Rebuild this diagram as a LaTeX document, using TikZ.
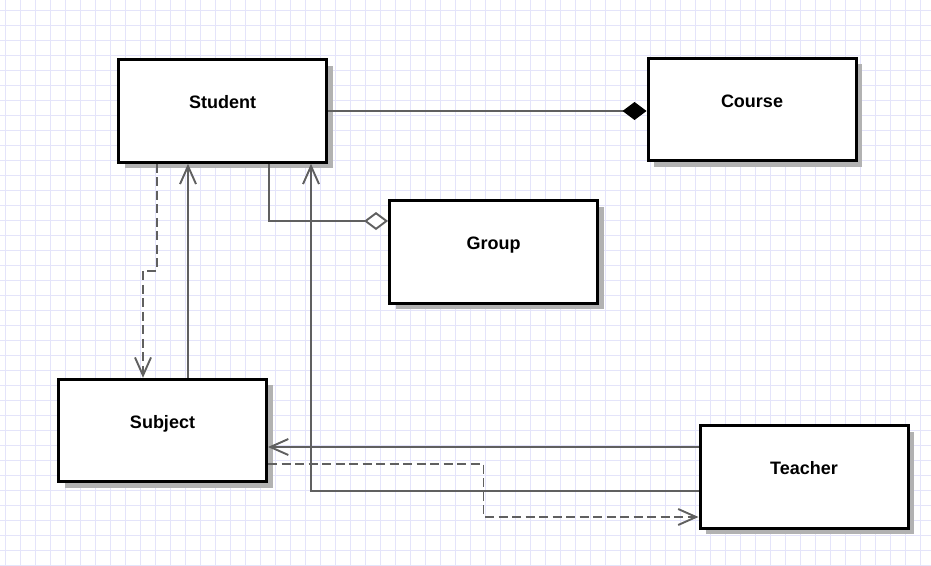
\documentclass[tikz,border=0pt]{standalone}
\usepackage{fontspec}
\setmainfont{Liberation Sans}
\usepackage{xcolor}
\usepackage{tikz}
\usetikzlibrary{arrows.meta,shadows}
\tikzset{every picture/.style={line width=0.75pt}}
\definecolor{gridblue}{RGB}{228,228,250}
\definecolor{linegray}{RGB}{96,96,96}
\definecolor{shadowgray}{RGB}{178,178,178}
\tikzset{
  classbox/.style={draw=black, line width=3pt, fill=white,
    minimum width=208pt, minimum height=102.5pt, inner sep=0pt,
    font=\fontsize{18pt}{20pt}\selectfont\bfseries,
    text height=13pt, text depth=18pt,
    drop shadow={shadow xshift=6pt, shadow yshift=-6pt, fill=shadowgray, opacity=1}},
  link/.style={draw=linegray, line width=1.9pt},
  dashlink/.style={link, dash pattern=on 9pt off 4.5pt},
  openarrow/.style={-{Straight Barb[length=18pt,width=16pt,line width=1.9pt]}},
  fulldiamond/.style={-{Diamond[length=24pt,width=18pt,color=black]}},
  emptydiamond/.style={-{Diamond[length=24pt,width=18pt,fill=white]}}
}

\begin{document}
\begin{tikzpicture}[x=1pt,y=-1pt]
\useasboundingbox (0,0) rectangle (931,565);
\fill[white] (0,0) rectangle (931,565);
\begin{scope}
\clip (0,0) rectangle (931,565);
\draw[gridblue, line width=0.9pt, step=15pt, shift={(5pt,-10pt)}] (-5,-10) grid (931,565);
\end{scope}
%
\node[classbox] (student) at (222.5,111) {Student};
\node[classbox] (course) at (752,109.5) {Course};
\node[classbox] (group) at (493.5,252) {Group};
\node[classbox] (subject) at (162.5,430.5) {Subject};
\node[classbox] (teacher) at (804,477) {Teacher};
%
\draw[link, fulldiamond] (student.east) -- (student.east -| course.west);
\draw[link, emptydiamond] ([xshift=46.5pt]student.south) |- (group.west |- 0,221);
%
\draw[dashlink, openarrow] ([xshift=-65.5pt]student.south) -- ++(0,107) -| ([xshift=-19.5pt]subject.north);
\draw[link, openarrow] ([xshift=25.5pt]subject.north) -- ([xshift=25.5pt]subject.north |- student.south);
\draw[link, openarrow] ([yshift=-14pt]teacher.west) -| ([xshift=88.5pt]student.south);
%
\draw[link, openarrow] ([yshift=30pt]teacher.west) -- ([yshift=30pt]teacher.west -| subject.east);
\draw[dashlink, openarrow] ([yshift=-33.5pt]subject.east) -| (483.5,517) -- (teacher.west |- 0,517);
\end{tikzpicture}
\end{document}
